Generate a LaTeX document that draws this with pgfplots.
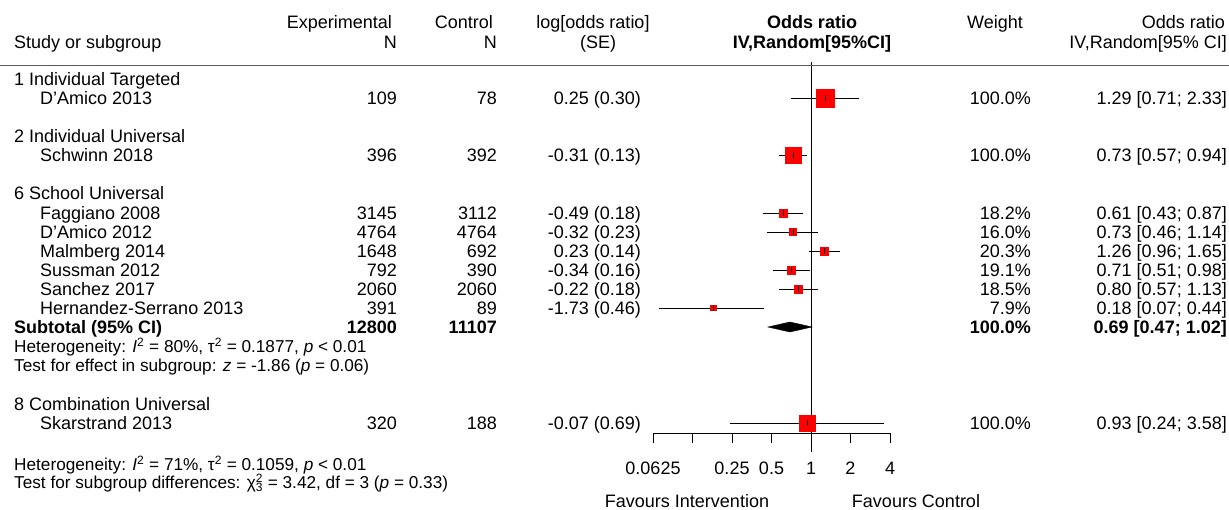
\documentclass[border=0pt]{standalone}
\usepackage{pgfplots}
\pgfplotsset{compat=1.18}
\usepackage{fontspec}
\setmainfont{Liberation Sans}
\newcommand{\T}[4]{\node[anchor=base #3,inner sep=0pt] at (#1pt,{(509-#2-6.5)*1pt}) {#4};}
\begin{document}
\begin{tikzpicture}
\path[use as bounding box] (0,0) rectangle (1229pt,509pt);
\fontsize{18}{19}\selectfont
\begin{axis}[at={(653pt,0pt)},anchor=south west,scale only axis,width=237pt,height=509pt,
  xmode=log,log basis x=2,xmin=0.0625,xmax=4,ymin=-509,ymax=0,hide axis,clip=false]
% reference line and axis
\addplot[black,thin] coordinates {(1,-452)(1,-62)};
\addplot[black,thin] coordinates {(0.0625,-433)(4,-433)};
\foreach \t in {0.0625,0.125,0.25,0.5,1,2,4}{
  \edef\tmp{\noexpand\addplot[black,thin] coordinates {(\t,-433)(\t,-443)};}\tmp}
% CI lines
\addplot[black,thin] coordinates {(0.71,-98)(2.33,-98)};
\addplot[black,thin] coordinates {(0.57,-155)(0.94,-155)};
\addplot[black,thin] coordinates {(0.43,-213)(0.87,-213)};
\addplot[black,thin] coordinates {(0.46,-232)(1.14,-232)};
\addplot[black,thin] coordinates {(0.96,-251)(1.65,-251)};
\addplot[black,thin] coordinates {(0.51,-270)(0.98,-270)};
\addplot[black,thin] coordinates {(0.57,-289)(1.13,-289)};
\addplot[black,thin] coordinates {(0.07,-308)(0.44,-308)};
\addplot[black,thin] coordinates {(0.24,-423)(3.58,-423)};
% squares
\addplot[only marks,mark=square*,mark options={fill=red,draw=red},mark size=9] coordinates {(1.29,-98)};
\addplot[only marks,mark=square*,mark options={fill=red,draw=red},mark size=8] coordinates {(0.73,-155)};
\addplot[only marks,mark=square*,mark options={fill=red,draw=red},mark size=4] coordinates {(0.61,-213)};
\addplot[only marks,mark=square*,mark options={fill=red,draw=red},mark size=3.6] coordinates {(0.73,-232)};
\addplot[only marks,mark=square*,mark options={fill=red,draw=red},mark size=4.2] coordinates {(1.26,-251)};
\addplot[only marks,mark=square*,mark options={fill=red,draw=red},mark size=4] coordinates {(0.71,-270)};
\addplot[only marks,mark=square*,mark options={fill=red,draw=red},mark size=4] coordinates {(0.80,-289)};
\addplot[only marks,mark=square*,mark options={fill=red,draw=red},mark size=2.6] coordinates {(0.18,-308)};
\addplot[only marks,mark=square*,mark options={fill=red,draw=red},mark size=8] coordinates {(0.93,-423)};
\addplot[only marks,mark=|,mark size=3,black,thin] coordinates {(1.29,-98)(0.73,-155)(0.61,-213)(0.73,-232)(1.26,-251)(0.71,-270)(0.80,-289)(0.18,-308)(0.93,-423)};
% diamond
\addplot[fill=black,draw=black] coordinates {(0.47,-327)(0.69,-322)(1.02,-327)(0.69,-332)} -- cycle;
% tick labels
\foreach \t/\l in {0.0625/0.0625,0.25/0.25,0.5/0.5,1/1,2/2,4/4}{
  \edef\tmp{\noexpand\node[anchor=base,inner sep=0pt] at (axis cs:\t,-474.5) {\l};}\tmp}
\end{axis}
\draw[gray!70!black,line width=1pt] (0pt,443pt) -- (1229pt,443pt);
% headers
\T{14}{42}{west}{Study or subgroup}
\T{392}{22}{east}{Experimental}
\T{397}{42}{east}{N}
\T{493}{22}{east}{Control}
\T{497}{42}{east}{N}
\T{593}{22}{}{log[odds ratio]}
\T{598}{42}{}{(SE)}
\T{812}{22}{}{\bfseries Odds ratio}
\T{812}{42}{}{\bfseries IV,Random[95\%CI]}
\T{995}{22}{}{Weight}
\T{1225}{22}{east}{Odds ratio}
\T{1227}{42}{east}{IV,Random[95\% CI]}
% rows
\T{14}{79}{west}{1 Individual Targeted}
\T{14}{136}{west}{2 Individual Universal}
\T{14}{193}{west}{6 School Universal}
\T{14}{404}{west}{8 Combination Universal}
\foreach \y/\n/\e/\c/\s/\w/\o in {
 98/D'Amico 2013/109/78/0.25 (0.30)/100.0\%/1.29 [0.71; 2.33],
 155/Schwinn 2018/396/392/-0.31 (0.13)/100.0\%/0.73 [0.57; 0.94],
 213/Faggiano 2008/3145/3112/-0.49 (0.18)/18.2\%/0.61 [0.43; 0.87],
 232/D'Amico 2012/4764/4764/-0.32 (0.23)/16.0\%/0.73 [0.46; 1.14],
 251/Malmberg 2014/1648/692/0.23 (0.14)/20.3\%/1.26 [0.96; 1.65],
 270/Sussman 2012/792/390/-0.34 (0.16)/19.1\%/0.71 [0.51; 0.98],
 289/Sanchez 2017/2060/2060/-0.22 (0.18)/18.5\%/0.80 [0.57; 1.13],
 308/Hernandez-Serrano 2013/391/89/-1.73 (0.46)/7.9\%/0.18 [0.07; 0.44],
 423/Skarstrand 2013/320/188/-0.07 (0.69)/100.0\%/0.93 [0.24; 3.58]}{
 \T{40}{\y}{west}{\n}
 \T{397}{\y}{east}{\e}
 \T{497}{\y}{east}{\c}
 \T{641}{\y}{east}{\s}
 \T{1031}{\y}{east}{\w}
 \T{1227}{\y}{east}{\o}
}
\T{14}{327}{west}{\bfseries Subtotal (95\% CI)}
\T{397}{327}{east}{\bfseries 12800}
\T{497}{327}{east}{\bfseries 11107}
\T{1031}{327}{east}{\bfseries 100.0\%}
\T{1227}{327}{east}{\bfseries 0.69 [0.47; 1.02]}
{\fontsize{17.2}{18}\selectfont
\T{14}{346}{west}{Heterogeneity: \textit{I}\textsuperscript{2} = 80\%, τ\textsuperscript{2} = 0.1877, \textit{p} < 0.01}
\T{14}{365}{west}{Test for effect in subgroup: \textit{z} = -1.86 (\textit{p} = 0.06)}
\T{14}{464}{west}{Heterogeneity: \textit{I}\textsuperscript{2} = 71\%, τ\textsuperscript{2} = 0.1059, \textit{p} < 0.01}
\T{14}{482}{west}{Test for subgroup differences: χ\rlap{\textsuperscript{2}}\textsubscript{3} = 3.42, df = 3 (\textit{p} = 0.33)}
}
\T{687}{501}{}{Favours Intervention}
\T{916}{501}{}{Favours Control}
\end{tikzpicture}
\end{document}
